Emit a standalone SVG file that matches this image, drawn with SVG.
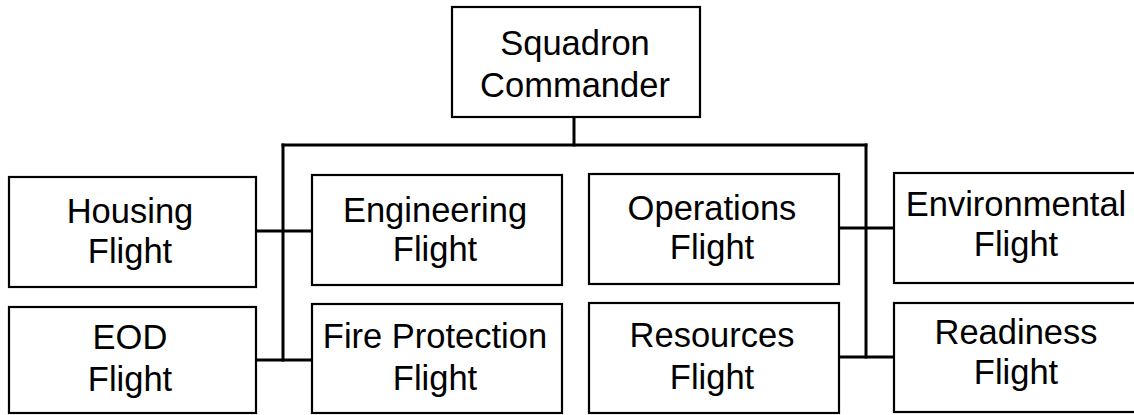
<svg xmlns="http://www.w3.org/2000/svg" width="1134" height="415" viewBox="0 0 1134 415">
  <style>
    .box { fill: #fff; stroke: #000; stroke-width: 2.2; }
    .lbl { font-family: "Liberation Sans", Arial, sans-serif; font-size: 34.5px; fill: #000; text-anchor: middle; }
    .wire { fill: none; stroke: #000; stroke-width: 3; stroke-linecap: square; }
  </style>
  <rect width="1134" height="415" fill="#fff"/>

  <!-- connectors -->
  <g id="connectors">
    <path class="wire" d="M574 117 V145"/>
    <path class="wire" d="M283 145 H866"/>
    <path class="wire" d="M283 145 V360"/>
    <path class="wire" d="M256 231 H312"/>
    <path class="wire" d="M256 360 H312"/>
    <path class="wire" d="M866 145 V357"/>
    <path class="wire" d="M839 228 H894"/>
    <path class="wire" d="M839 357 H894"/>
  </g>

  <g id="commander">
    <rect class="box" x="452" y="7" width="248" height="110"/>
    <text class="lbl" x="575" y="55">Squadron</text>
    <text class="lbl" x="575" y="97">Commander</text>
  </g>

  <g id="housing">
    <rect class="box" x="9" y="177" width="247" height="110"/>
    <text class="lbl" x="130" y="223">Housing</text>
    <text class="lbl" x="130" y="263">Flight</text>
  </g>

  <g id="eod">
    <rect class="box" x="9" y="307" width="247" height="106"/>
    <text class="lbl" x="130" y="349">EOD</text>
    <text class="lbl" x="130" y="391">Flight</text>
  </g>

  <g id="engineering">
    <rect class="box" x="312" y="175" width="250" height="110"/>
    <text class="lbl" x="435" y="222">Engineering</text>
    <text class="lbl" x="435" y="261">Flight</text>
  </g>

  <g id="fire-protection">
    <rect class="box" x="312" y="304" width="250" height="109"/>
    <text class="lbl" x="435" y="348">Fire Protection</text>
    <text class="lbl" x="435" y="390">Flight</text>
  </g>

  <g id="operations">
    <rect class="box" x="589" y="174" width="250" height="110"/>
    <text class="lbl" x="712" y="220">Operations</text>
    <text class="lbl" x="712" y="259">Flight</text>
  </g>

  <g id="resources">
    <rect class="box" x="589" y="303" width="250" height="110"/>
    <text class="lbl" x="712" y="347">Resources</text>
    <text class="lbl" x="712" y="389">Flight</text>
  </g>

  <g id="environmental">
    <rect class="box" x="894" y="173" width="246" height="110"/>
    <text class="lbl" x="1016" y="216">Environmental</text>
    <text class="lbl" x="1016" y="256">Flight</text>
  </g>

  <g id="readiness">
    <rect class="box" x="894" y="303" width="246" height="109"/>
    <text class="lbl" x="1016" y="344">Readiness</text>
    <text class="lbl" x="1016" y="384">Flight</text>
  </g>
</svg>
